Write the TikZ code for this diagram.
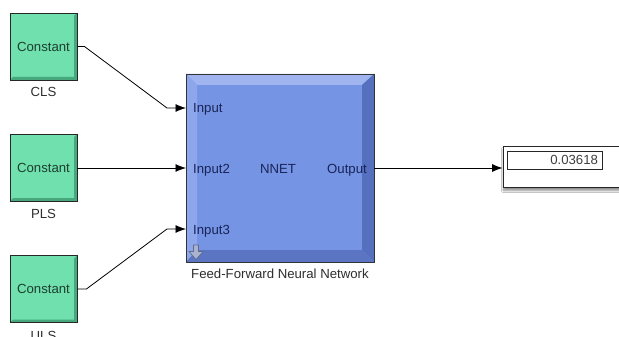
\documentclass[tikz,border=0pt]{standalone}
\usepackage{fontspec}
\setmainfont{Liberation Sans}
\usetikzlibrary{arrows.meta,shadows.blur}

\definecolor{cgreen}{HTML}{6FE0AE}
\definecolor{cgreendark}{HTML}{47A87E}
\definecolor{ctext}{HTML}{1E3F30}
\definecolor{nface}{HTML}{7594E4}
\definecolor{ntop}{HTML}{A0B5F0}
\definecolor{nleft}{HTML}{8DA6EC}
\definecolor{nright}{HTML}{5470BF}
\definecolor{nbottom}{HTML}{5C75C3}
\definecolor{ntext}{HTML}{1A2458}
\definecolor{lbltext}{HTML}{2E2E2E}
\definecolor{iconfill}{HTML}{A9B3CF}
\definecolor{iconline}{HTML}{5F6A8E}

\tikzset{
  txt/.style={font=\fontsize{13.2}{15}\selectfont, inner sep=0pt},
  constbox/.style={txt, draw=black!85, line width=0.9pt, fill=cgreen,
    minimum width=67pt, minimum height=67pt, text=ctext,
    path picture={
      \fill[cgreendark]
        (path picture bounding box.south west) -- (path picture bounding box.south east)
        -- (path picture bounding box.north east)
        -- ([xshift=-3pt,yshift=-3pt]path picture bounding box.north east)
        -- ([xshift=-3pt,yshift=3pt]path picture bounding box.south east)
        -- ([xshift=3pt,yshift=3pt]path picture bounding box.south west) -- cycle;
    }},
  nnetbox/.style={draw=black!80, line width=0.9pt, fill=nface,
    minimum width=188pt, minimum height=188pt, inner sep=0pt,
    path picture={
      \fill[ntop] (path picture bounding box.north west) -- (path picture bounding box.north east)
        -- ([xshift=-12pt,yshift=-11pt]path picture bounding box.north east)
        -- ([xshift=11pt,yshift=-11pt]path picture bounding box.north west) -- cycle;
      \fill[nleft] (path picture bounding box.north west)
        -- ([xshift=11pt,yshift=-11pt]path picture bounding box.north west)
        -- ([xshift=11pt,yshift=12pt]path picture bounding box.south west)
        -- (path picture bounding box.south west) -- cycle;
      \fill[nright] (path picture bounding box.north east) -- (path picture bounding box.south east)
        -- ([xshift=-12pt,yshift=12pt]path picture bounding box.south east)
        -- ([xshift=-12pt,yshift=-11pt]path picture bounding box.north east) -- cycle;
      \fill[nbottom] (path picture bounding box.south west) -- (path picture bounding box.south east)
        -- ([xshift=-12pt,yshift=12pt]path picture bounding box.south east)
        -- ([xshift=11pt,yshift=12pt]path picture bounding box.south west) -- cycle;
    }},
  port/.style={txt, text=ntext, anchor=base west},
  blocklabel/.style={txt, text=lbltext, anchor=base},
  wire/.style={draw=black, line width=0.8pt, -{Latex[length=10.5pt,width=8pt]}},
}

\begin{document}
\begin{tikzpicture}[x=1pt,y=-1pt]
\useasboundingbox[fill=white] (0,0) rectangle (619,337);

% constant source blocks
\node[constbox] (c1) at (43.5,46.5) {Constant};
\node[constbox] (c2) at (43.5,167.5) {Constant};
\node[constbox] (c3) at (43.5,289) {Constant};
\node[blocklabel] (l1) at (43.5,97) {CLS};
\node[blocklabel] (l2) at (43.5,218) {PLS};
\node[blocklabel] (l3) at (43.5,340) {ULS};

% neural network block
\node[nnetbox] (nn) at (280,168) {};
\node[port] (pin1) at (193,113) {Input};
\node[port] (pin2) at (193,173) {Input2};
\node[port] (pin3) at (193,234) {Input3};
\node[txt, text=ntext, anchor=base] (nlbl) at (278,173) {NNET};
\node[txt, text=ntext, anchor=base east] (pout) at (367,173) {Output};
\node[blocklabel] (cap) at (280,278) {Feed-Forward Neural Network};

% mask icon in the lower left corner
\filldraw[fill=iconfill, draw=iconline, line width=0.6pt, line join=miter]
  (193.5,245) -- (198.5,245) -- (198.5,251.5) -- (203,251.5) -- (196,259.5) -- (189,251.5) -- (193.5,251.5) -- cycle;

% input ports
\coordinate (in1) at (186,108);
\coordinate (in2) at (186,168);
\coordinate (in3) at (186,229);

% display block
\node[draw=black!85, line width=0.8pt, fill=white, minimum width=127pt, minimum height=41pt,
      blur shadow={shadow xshift=0.5pt, shadow yshift=-3.5pt, shadow blur steps=6, shadow opacity=45}]
  (disp) at (566.5,166.5) {};
\node[txt, draw=black!85, line width=0.8pt, text=black!75, text width=87pt, align=right,
      inner xsep=4pt, minimum height=18pt] (val) at (554.5,160) {0.03618};

% connections
\draw[wire] (c1.east) -- ++(7,0) -- ([xshift=-19pt]in1) -- (in1);
\draw[wire] (c2.east |- in2) -- (in2);
\draw[wire] (c3.east) -- ++(9,0) -- ([xshift=-19pt]in3) -- (in3);
\draw[wire] (nn.east) -- (disp.west |- nn.east);
\end{tikzpicture}
\end{document}
